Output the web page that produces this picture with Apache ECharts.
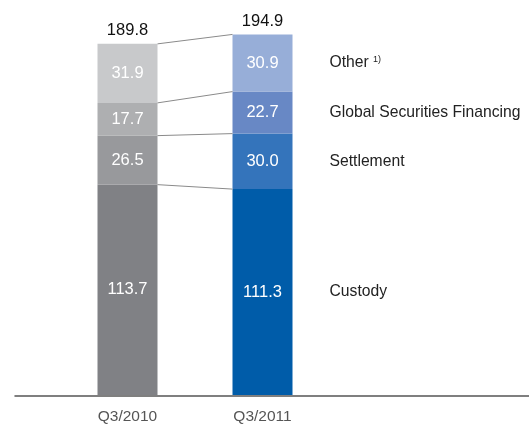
<!DOCTYPE html>
<html><head><meta charset="utf-8">
<script src="https://cdn.jsdelivr.net/npm/echarts@6/dist/echarts.min.js"></script>
<style>html,body{margin:0;padding:0;background:#fff}#c{width:529px;height:425px}</style>
</head><body><div id="c"></div>
<script>
const categories = ['Q3/2010', 'Q3/2011'];
const segments = ['Custody', 'Settlement', 'Global Securities Financing', 'Other'];
const q3_2010 = [113.7, 26.5, 17.7, 31.9];
const q3_2011 = [111.3, 30.0, 22.7, 30.9];
const totals = [189.8, 194.9];

const grayColors = ['#808185', '#98999c', '#aeafb1', '#c8c9cb'];
const blueColors = ['#005ca9', '#3474bb', '#6888c5', '#97aed8'];
const FONT = 'Liberation Sans';
const BAR_W = 60;

function cum(arr, k) { let s = 0; for (let i = 0; i <= k; i++) s += arr[i]; return s; }

const chart = echarts.init(document.getElementById('c'));
const barSeries = segments.map((name, k) => ({
  type: 'bar', name, stack: 'a', barWidth: BAR_W,
  xAxisIndex: 0, yAxisIndex: 0,
  data: [
    { value: q3_2010[k], itemStyle: { color: grayColors[k] } },
    { value: q3_2011[k], itemStyle: { color: blueColors[k] } }
  ],
  label: { show: true, position: 'inside', color: '#fff', fontSize: 16.5, fontFamily: FONT,
    formatter: p => p.value.toFixed(1) },
  silent: true
}));

const overlay = {
  type: 'custom', xAxisIndex: 0, yAxisIndex: 0, silent: true, z: 5,
  data: segments.map((s, k) => [k]),
  encode: { x: -1, y: -1 },
  renderItem: function (params, api) {
    const k = api.value(0);
    const children = [];
    const a = api.coord([0, cum(q3_2010, k)]);
    const b = api.coord([1, cum(q3_2011, k)]);
    children.push({ type: 'line', shape: { x1: a[0] + BAR_W / 2, y1: a[1], x2: b[0] - BAR_W / 2, y2: b[1] },
      style: { stroke: '#8a8a8a', lineWidth: 1 } });
    const mid = api.coord([1, cum(q3_2011, k) - q3_2011[k] / 2]);
    const isOther = k === segments.length - 1;
    children.push({ type: 'text', x: mid[0] + BAR_W / 2 + 37, y: mid[1],
      style: {
        text: isOther ? '{a|' + segments[k] + '} {s|1)}' : segments[k],
        fill: '#222', fontSize: 15.7, fontFamily: FONT, verticalAlign: 'middle', align: 'left',
        rich: isOther ? { a: { fontSize: 15.7, fontFamily: FONT, fill: '#222' },
                          s: { fontSize: 9, fontFamily: FONT, fill: '#222', padding: [0, 0, 7, 0] } } : undefined
      } });
    if (k === 0) {
      totals.forEach((t, i) => {
        const p = api.coord([i, t]);
        children.push({ type: 'text', x: p[0], y: p[1] - 13,
          style: { text: t.toFixed(1), fill: '#111', fontSize: 16.5, fontFamily: FONT, align: 'center', verticalAlign: 'middle' } });
      });
    }
    return { type: 'group', children };
  }
};

chart.setOption({
  animation: false,
  grid: [
    { left: 60, width: 270, top: 25, bottom: 29 },
    { left: 15, right: 0, top: 25, bottom: 29 }
  ],
  xAxis: [
    { type: 'category', gridIndex: 0, data: categories,
      axisLine: { show: false }, axisTick: { show: false },
      axisLabel: { color: '#555', fontSize: 15.5, fontFamily: FONT, margin: 14 } },
    { type: 'category', gridIndex: 1, data: [''],
      axisLine: { show: true, lineStyle: { color: '#555', width: 1.5 } },
      axisTick: { show: false }, axisLabel: { show: false } }
  ],
  yAxis: [
    { type: 'value', gridIndex: 0, min: 0, max: 200, show: false, splitLine: { show: false } },
    { type: 'value', gridIndex: 1, min: 0, max: 200, show: false, splitLine: { show: false } }
  ],
  series: barSeries.concat([overlay])
});
</script></body></html>
